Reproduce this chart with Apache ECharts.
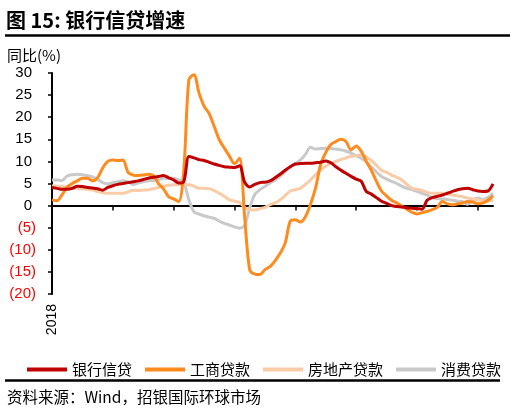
<!DOCTYPE html>
<html>
<head>
<meta charset="utf-8">
<script src="https://cdn.jsdelivr.net/npm/echarts@6/dist/echarts.min.js"></script>
<style>
html,body{margin:0;padding:0;background:#fff;}
#c{width:510px;height:413px;}
</style>
</head>
<body>
<div id="c"></div>
<script>
// Monthly categories, 2018-01 .. 2025-04
var months = [];
for (var y = 2018; y <= 2025; y++) {
  for (var m = 1; m <= 12; m++) {
    if (y === 2025 && m > 4) break;
    months.push(y + '-' + (m < 10 ? '0' + m : m));
  }
}
var seriesNames = ['银行信贷', '工商贷款', '房地产贷款', '消费贷款'];
var bankCredit = [4.1,3.9,3.7,3.7,3.9,4.4,4.3,4.1,4.0,3.8,3.5,4.1,
  4.5,4.8,5.0,5.2,5.4,5.6,5.9,6.2,6.4,6.6,6.8,6.3,
  5.8,5.1,5.4,11.1,10.8,10.4,10.2,9.8,9.4,9.1,8.8,8.7,
  8.6,9.0,5.3,4.2,4.8,5.2,5.3,5.6,6.3,7.1,8.0,8.8,
  9.4,9.5,9.6,9.6,9.7,9.8,10.1,9.7,8.8,8.0,7.3,6.6,
  6.0,5.5,3.2,2.6,1.8,1.0,0.5,0.0,-0.2,-0.3,-0.5,-0.6,
  -0.7,-0.8,1.2,1.8,2.1,2.4,2.8,3.2,3.6,3.8,3.9,3.6,
  3.3,3.2,3.3,4.9];
var ciLoans = [1.3,1.1,2.5,4.2,5.0,5.6,6.2,6.2,5.6,6.3,8.5,10.0,
  10.3,10.2,10.3,7.5,6.9,6.8,6.9,7.1,6.8,5.0,3.8,2.0,
  1.5,0.9,8.0,28.5,29.6,25.5,22.5,20.8,17.9,14.9,13.0,11.2,
  9.5,10.7,-2.5,-14.5,-15.5,-15.6,-14.5,-13.8,-12.5,-10.8,-8.5,-3.5,
  -3.2,-3.7,-2.5,0.3,4.0,9.3,12.0,13.8,14.5,15.0,14.5,12.6,
  13.5,12.3,10.0,8.0,5.5,3.3,2.2,1.2,0.6,-0.1,-0.8,-1.5,
  -1.9,-1.6,-1.3,-0.9,-0.4,0.9,0.4,0.2,0.4,0.6,0.9,0.8,
  0.4,0.6,1.2,2.2];
var realEstate = [4.5,4.4,4.3,4.1,3.9,3.9,3.8,3.7,3.5,3.2,2.9,2.8,
  2.8,2.8,2.8,3.1,3.5,3.4,3.5,3.6,3.8,4.1,4.4,4.6,
  4.7,4.7,4.7,4.7,4.4,3.9,3.9,3.8,3.4,2.8,2.1,1.3,
  1.0,0.7,-0.4,-0.9,-1.0,-0.7,-0.4,0.2,0.6,1.3,2.3,3.3,
  3.6,3.9,4.8,5.8,7.0,8.1,8.9,9.6,10.0,10.4,10.8,11.1,
  11.3,11.5,11.0,10.2,9.1,8.0,7.5,6.9,6.4,5.8,4.8,3.9,
  3.7,3.4,3.0,2.8,2.8,2.8,2.6,2.4,2.2,2.0,1.7,1.5,
  1.3,1.2,1.1,1.1];
var consumer = [5.8,5.8,5.7,6.7,7.0,7.1,7.0,6.8,6.5,5.9,5.2,4.9,
  5.2,5.4,5.6,5.4,4.8,5.1,5.4,5.6,5.7,5.9,6.2,6.2,
  6.2,5.8,5.2,1.3,-1.4,-1.9,-2.3,-2.6,-2.9,-3.5,-4.0,-4.4,
  -4.8,-5.1,-4.5,-0.5,2.5,3.6,4.3,5.1,5.8,6.6,7.7,8.8,
  9.5,10.3,11.6,13.2,12.8,12.9,13.0,12.9,12.8,12.6,12.3,11.9,
  11.3,10.7,9.9,8.8,7.6,6.6,6.0,5.5,5.0,4.4,3.9,3.6,
  3.2,2.8,2.4,1.8,1.6,1.5,1.4,1.2,1.0,0.9,0.3,1.3,
  1.7,1.4,1.8,2.8];
var colors = ['#C00000', '#FF8A1E', '#F9CBA6', '#C9C9C9'];

var latin = '"Liberation Sans", Arial, "Noto Sans CJK SC", sans-serif';
var cjk = '"Noto Sans CJK SC", "Liberation Sans", sans-serif';

var chart = echarts.init(document.getElementById('c'), null, {renderer: 'canvas'});
function mk(name, data, color, z) {
  return {
    name: name, type: 'line', data: data, xAxisIndex: 0, yAxisIndex: 0,
    showSymbol: false, symbol: 'none', smooth: 0.3, z: z,
    lineStyle: {color: color, width: 3}, itemStyle: {color: color},
    animation: false
  };
}
chart.setOption({
  animation: false,
  grid: {left: 52, right: 17, top: 73, bottom: 119, containLabel: false},
  legend: {
    left: 22, top: 357, itemWidth: 40, itemHeight: 4, itemGap: 13, icon: 'rect',
    textStyle: {fontFamily: cjk, fontSize: 15, color: '#000'},
    data: seriesNames
  },
  xAxis: [{
    type: 'category', data: months, boundaryGap: false, position: 'bottom',
    axisLine: {show: false, onZero: false}, axisTick: {show: false},
    axisLabel: {
      interval: 0, rotate: 90, margin: 10, fontFamily: latin, fontSize: 14, color: '#000',
      formatter: function (v, i) { return i === 0 ? v.slice(0, 4) : ''; }
    },
    splitLine: {show: false}
  }, {
    type: 'category', data: months, boundaryGap: false, position: 'bottom',
    axisLine: {show: true, onZero: true, lineStyle: {color: '#000', width: 2}},
    axisTick: {show: true, length: 5, lineStyle: {color: '#000', width: 1.5},
      interval: function (i) { return i % 12 === 0; }},
    axisLabel: {show: false}, splitLine: {show: false}
  }],
  yAxis: {
    type: 'value', min: -20, max: 30, interval: 5,
    axisLine: {show: true, lineStyle: {color: '#000', width: 2}},
    axisTick: {show: true, length: 4, lineStyle: {color: '#000', width: 1.5}},
    splitLine: {show: false},
    axisLabel: {
      margin: 16, fontFamily: latin, fontSize: 15,
      formatter: function (v) { return v < 0 ? '{n|(' + (-v) + ')}' : '{p|' + v + '}'; },
      rich: {
        p: {fontFamily: latin, fontSize: 15, color: '#000', padding: [0, 4, 0, 0]},
        n: {fontFamily: latin, fontSize: 15, color: '#FF0000'}
      }
    }
  },
  series: [
    mk(seriesNames[3], consumer, colors[3], 1),
    mk(seriesNames[2], realEstate, colors[2], 2),
    mk(seriesNames[1], ciLoans, colors[1], 3),
    mk(seriesNames[0], bankCredit, colors[0], 4)
  ],
  graphic: [
    {type: 'text', x: 6, y: 20, style: {text: '图 15: 银行信贷增速', font: 'bold 20px ' + cjk, fill: '#000', textVerticalAlign: 'middle'}},
    {type: 'line', shape: {x1: 5, y1: 35.5, x2: 510, y2: 35.5}, style: {stroke: '#000', lineWidth: 2.5}},
    {type: 'text', x: 7, y: 55, style: {text: '同比(%)', font: '15px ' + cjk, fill: '#000', textVerticalAlign: 'middle'}},
    {type: 'line', shape: {x1: 5, y1: 380.5, x2: 500, y2: 380.5}, style: {stroke: '#000', lineWidth: 2.5}},
    {type: 'text', x: 7, y: 397, style: {text: '资料来源：Wind，招银国际环球市场', font: '15.5px ' + cjk, fill: '#000', textVerticalAlign: 'middle'}}
  ]
});
</script>
</body>
</html>
